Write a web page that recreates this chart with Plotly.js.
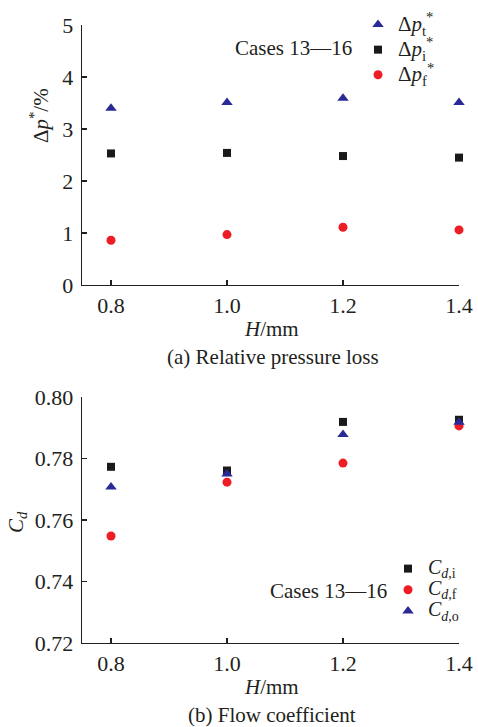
<!DOCTYPE html>
<html>
<head>
<meta charset="utf-8">
<script src="https://cdn.plot.ly/plotly-3.0.1.min.js"></script>
<style>html,body{margin:0;padding:0;background:#fff;}</style>
</head>
<body>
<div id="chart" style="width:478px;height:727px;"></div>
<script>
// Data
const H = [0.8, 1.0, 1.2, 1.4];
// (a) relative pressure loss, %
const dpT = [3.40, 3.51, 3.59, 3.51];
const dpI = [2.53, 2.54, 2.48, 2.45];
const dpF = [0.86, 0.97, 1.11, 1.06];
// (b) flow coefficient
const CdI = [0.7773, 0.7761, 0.7919, 0.7926];
const CdF = [0.7548, 0.7723, 0.7785, 0.7906];
const CdO = [0.7707, 0.7750, 0.7878, 0.7918];
const xTicks = [0.8, 1.0, 1.2, 1.4];
const xTickText = ['0.8', '1.0', '1.2', '1.4'];
const yTicksA = [0, 1, 2, 3, 4, 5];
const yTicksB = [0.72, 0.74, 0.76, 0.78, 0.80];
const yTickTextB = ['0.72', '0.74', '0.76', '0.78', '0.80'];

const FONT = 'Liberation Serif, Times New Roman, serif';
const TXT = '#231f20';
const BLUE = '#2a2a96', BLACK = '#1a1a1a', RED = '#ee1c25';
const big = (s, sz) => '<span style="font-size:' + sz + 'px">' + s + '</span>';

const traces = [
  {x: H, y: dpT, xaxis: 'x', yaxis: 'y', mode: 'markers', type: 'scatter', cliponaxis: false, legend: 'legend',
   name: big('Δ<i>p</i><sub>t</sub><sup>*</sup>', 21), marker: {symbol: 'triangle-up', size: 10, color: BLUE}},
  {x: H, y: dpI, xaxis: 'x', yaxis: 'y', mode: 'markers', type: 'scatter', cliponaxis: false, legend: 'legend',
   name: big('Δ<i>p</i><sub>i</sub><sup>*</sup>', 21), marker: {symbol: 'square', size: 8, color: BLACK}},
  {x: H, y: dpF, xaxis: 'x', yaxis: 'y', mode: 'markers', type: 'scatter', cliponaxis: false, legend: 'legend',
   name: big('Δ<i>p</i><sub>f</sub><sup>*</sup>', 21), marker: {symbol: 'circle', size: 9, color: RED}},
  {x: H, y: CdI, xaxis: 'x2', yaxis: 'y2', mode: 'markers', type: 'scatter', cliponaxis: false, legend: 'legend2',
   name: big('<i>C</i><sub><i>d</i>,i</sub>', 20), marker: {symbol: 'square', size: 8, color: BLACK}},
  {x: H, y: CdF, xaxis: 'x2', yaxis: 'y2', mode: 'markers', type: 'scatter', cliponaxis: false, legend: 'legend2',
   name: big('<i>C</i><sub><i>d</i>,f</sub>', 20), marker: {symbol: 'circle', size: 9, color: RED}},
  {x: H, y: CdO, xaxis: 'x2', yaxis: 'y2', mode: 'markers', type: 'scatter', cliponaxis: false, legend: 'legend2',
   name: big('<i>C</i><sub><i>d</i>,o</sub>', 20), marker: {symbol: 'triangle-up', size: 10, color: BLUE}}
];

const W = 478, HT = 727;
const px = v => v / W, py = v => 1 - v / HT;
const axCommon = {
  showline: true, linecolor: TXT, linewidth: 1.3, mirror: false,
  ticks: 'inside', ticklen: 5, tickwidth: 1.3, tickcolor: TXT,
  showgrid: false, zeroline: false, tickfont: {family: FONT, size: 22, color: TXT}
};
const ann = (text, x, y, extra) => Object.assign({text: text, xref: 'paper', yref: 'paper', x: px(x), y: py(y), showarrow: false,
  xanchor: 'center', yanchor: 'middle', font: {family: FONT, size: 21, color: TXT}}, extra || {});
const layout = {
  width: W, height: HT,
  margin: {l: 0, r: 0, t: 0, b: 0},
  paper_bgcolor: '#fff', plot_bgcolor: '#fff',
  font: {family: FONT, size: 21, color: TXT},
  showlegend: true,
  xaxis: Object.assign({}, axCommon, {domain: [px(82), px(459)], range: [0.75, 1.4], tickvals: xTicks, ticktext: xTickText, anchor: 'y'}),
  yaxis: Object.assign({}, axCommon, {domain: [py(285), py(25)], range: [0, 5], tickvals: yTicksA, anchor: 'x', ticklabelstandoff: 3}),
  xaxis2: Object.assign({}, axCommon, {domain: [px(82), px(459)], range: [0.75, 1.4], tickvals: xTicks, ticktext: xTickText, anchor: 'y2'}),
  yaxis2: Object.assign({}, axCommon, {domain: [py(643), py(397)], range: [0.72, 0.80], tickvals: yTicksB, ticktext: yTickTextB, anchor: 'x2', ticklabelstandoff: 3}),
  legend: {x: px(358), y: py(7), xanchor: 'left', yanchor: 'top', bgcolor: 'rgba(0,0,0,0)', font: {family: FONT, size: 17, color: TXT}, itemwidth: 30, tracegroupgap: 0},
  legend2: {x: px(388), y: py(553), xanchor: 'left', yanchor: 'top', bgcolor: 'rgba(0,0,0,0)', font: {family: FONT, size: 14, color: TXT}, itemwidth: 30, tracegroupgap: 0},
  annotations: [
    ann('Cases 13—16', 293, 48),
    ann('Cases 13—16', 328, 591),
    ann('Δ<i>p</i><sup>*</sup>/%', 40, 116, {textangle: -90}),
    ann('<i>C</i><sub><i>d</i></sub>', 17, 522, {textangle: -90}),
    ann('<i>H</i>/mm', 271, 329),
    ann('<i>H</i>/mm', 271, 687),
    ann('(a) Relative pressure loss', 273, 357),
    ann('(b) Flow coefficient', 272, 715)
  ]
};
Plotly.newPlot('chart', traces, layout, {displayModeBar: false, staticPlot: true});
</script>
</body>
</html>
